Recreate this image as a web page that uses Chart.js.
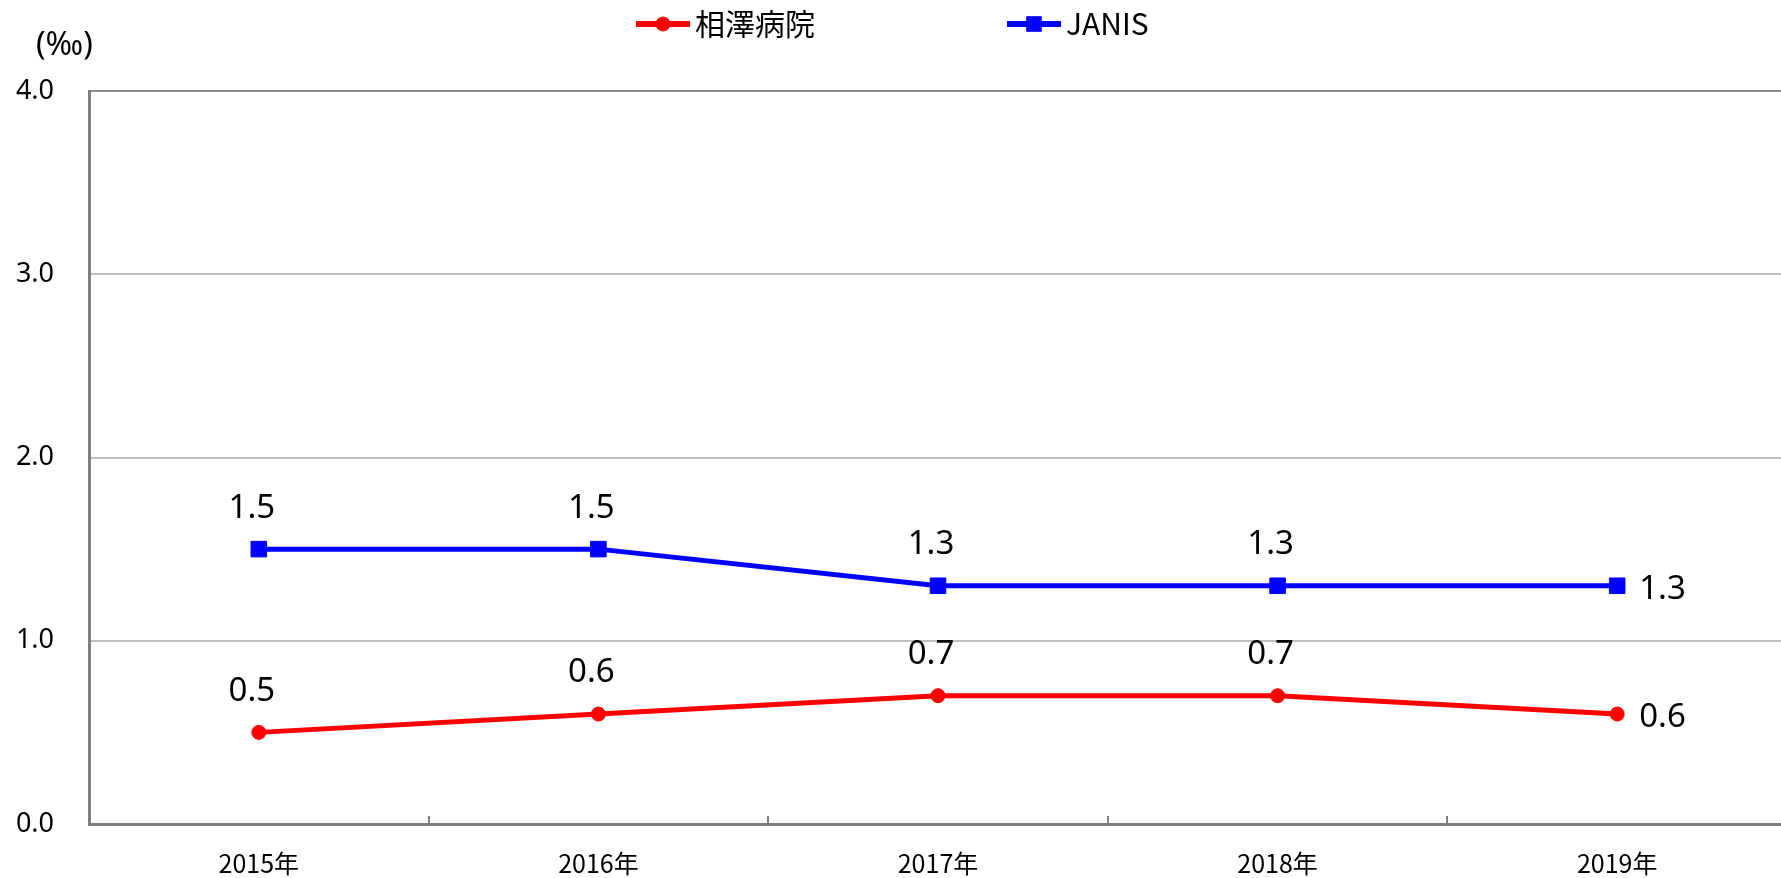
<!DOCTYPE html>
<html lang="ja">
<head>
<meta charset="utf-8">
<title>相澤病院 / JANIS</title>
<script src="https://cdn.jsdelivr.net/npm/chart.js@4.4.1/dist/chart.umd.min.js"></script>
<style>
  html, body { margin: 0; padding: 0; background: #fff; overflow: hidden; }
  /* plot area runs a little past the right edge of the window, as in the original */
  .chart-wrap { position: relative; width: 1800px; height: 878px; }
</style>
</head>
<body>
<div class="chart-wrap"><canvas id="rateChart"></canvas></div>
<script>
// Data
const years = ['2015年', '2016年', '2017年', '2018年', '2019年'];
const aizawaValues = [0.5, 0.6, 0.7, 0.7, 0.6];
const janisValues = [1.5, 1.5, 1.3, 1.3, 1.3];
const yTicks = [0, 1, 2, 3, 4];
const unitLabel = '(‰)';

const LATIN = '"Noto Sans", "Open Sans", sans-serif';
const CJK = '"Noto Sans CJK JP", "Noto Sans", sans-serif';

Chart.defaults.font.family = LATIN;
Chart.defaults.color = '#000';

/**
 * Legend: line + marker, drawn from the datasets
 */
const lineLegend = {
    id: 'lineLegend',
    afterDraw(chart, args, opts) {
        const ctx = chart.ctx;
        let x = opts.x;
        ctx.save();
        ctx.font = opts.font;
        ctx.textBaseline = 'middle';
        ctx.textAlign = 'left';
        chart.data.datasets.forEach((ds, i) => {
            ctx.strokeStyle = ds.borderColor;
            ctx.fillStyle = ds.backgroundColor;
            ctx.lineWidth = opts.lineWidth;
            ctx.beginPath();
            ctx.moveTo(x, opts.y);
            ctx.lineTo(x + opts.lineLength, opts.y);
            ctx.stroke();
            const r = ds.pointStyle === 'rect' ? opts.rectRadius : opts.circleRadius;
            ctx.lineWidth = 1;
            Chart.helpers.drawPoint(ctx, { pointStyle: ds.pointStyle, radius: r, borderWidth: 1, rotation: 0 },
                x + opts.lineLength / 2, opts.y);
            ctx.fillStyle = '#000';
            const tx = x + opts.lineLength + opts.textGap;
            ctx.fillText(ds.label, tx, opts.y);
            x = tx + ctx.measureText(ds.label).width + opts.itemGap;
        });
        ctx.restore();
    }
};

/**
 * Value labels above the points, last one to the right
 */
const valueLabels = {
    id: 'valueLabels',
    afterDatasetsDraw(chart, args, opts) {
        const ctx = chart.ctx;
        ctx.save();
        ctx.font = opts.font;
        ctx.fillStyle = '#000';
        ctx.textBaseline = 'middle';
        chart.data.datasets.forEach((ds, di) => {
            const meta = chart.getDatasetMeta(di);
            meta.data.forEach((pt, i) => {
                const text = ds.data[i].toFixed(1);
                if (i === ds.data.length - 1) {
                    ctx.textAlign = 'left';
                    ctx.fillText(text, pt.x + opts.sideGap, pt.y + 4);
                } else {
                    ctx.textAlign = 'center';
                    ctx.fillText(text, pt.x + opts.shiftX, pt.y - opts.aboveGap);
                }
            });
        });
        ctx.restore();
    }
};

/**
 * Unit text over the y axis
 */
const unitText = {
    id: 'unitText',
    afterDraw(chart, args, opts) {
        const ctx = chart.ctx;
        const area = chart.chartArea;
        ctx.save();
        ctx.font = opts.font;
        ctx.fillStyle = '#000';
        ctx.textAlign = 'left';
        ctx.textBaseline = 'middle';
        ctx.fillText(unitLabel, area.left - opts.dx, area.top - opts.dy);
        ctx.restore();
    }
};

new Chart(document.getElementById('rateChart'), {
    type: 'line',
    data: {
        labels: years,
        datasets: [{
            label: '相澤病院',
            data: aizawaValues,
            borderColor: '#ff0000',
            backgroundColor: '#ff0000',
            borderWidth: 5,
            pointStyle: 'circle',
            pointRadius: 7,
            pointBorderWidth: 1,
            tension: 0
        }, {
            label: 'JANIS',
            data: janisValues,
            borderColor: '#0000ff',
            backgroundColor: '#0000ff',
            borderWidth: 5,
            pointStyle: 'rect',
            pointRadius: 11,
            pointBorderWidth: 1,
            tension: 0
        }]
    },
    options: {
        responsive: true,
        maintainAspectRatio: false,
        animation: false,
        devicePixelRatio: 1,
        layout: {
            padding: { top: 91, left: 0, right: 13, bottom: 0 }
        },
        plugins: {
            legend: { display: false },
            tooltip: { enabled: false },
            lineLegend: {
                x: 636, y: 24, lineLength: 54, textGap: 5, itemGap: 192,
                lineWidth: 6, circleRadius: 7, rectRadius: 10.3,
                font: '30px ' + CJK
            },
            valueLabels: {
                font: '33px ' + LATIN,
                aboveGap: 41, shiftX: -7, sideGap: 22
            },
            unitText: {
                font: '32px ' + LATIN,
                dx: 53, dy: 45
            }
        },
        scales: {
            x: {
                offset: true,
                grid: {
                    offset: true,
                    drawOnChartArea: false,
                    drawTicks: true,
                    tickLength: -8,
                    color: '#808080',
                    lineWidth: 2
                },
                border: { display: true, color: '#808080', width: 3 },
                ticks: {
                    font: { family: CJK, size: 25 },
                    padding: 32,
                    maxRotation: 0
                },
                afterFit(scale) { scale.height = 54; }
            },
            y: {
                min: yTicks[0],
                max: yTicks[yTicks.length - 1],
                afterBuildTicks(scale) {
                    scale.ticks = yTicks.map(v => ({ value: v }));
                },
                grid: {
                    drawTicks: false,
                    lineWidth: 2,
                    color: ctx => {
                        const v = ctx.tick && ctx.tick.value;
                        if (v === yTicks[yTicks.length - 1]) return '#8c8c8c';
                        if (v === yTicks[0]) return '#808080';
                        return '#c0c0c0';
                    }
                },
                border: { display: true, color: '#808080', width: 3 },
                ticks: {
                    font: { size: 27 },
                    padding: 35,
                    callback: v => Number(v).toFixed(1)
                },
                afterFit(scale) { scale.width = 89; }
            }
        }
    },
    plugins: [lineLegend, valueLabels, unitText]
});
</script>
</body>
</html>
